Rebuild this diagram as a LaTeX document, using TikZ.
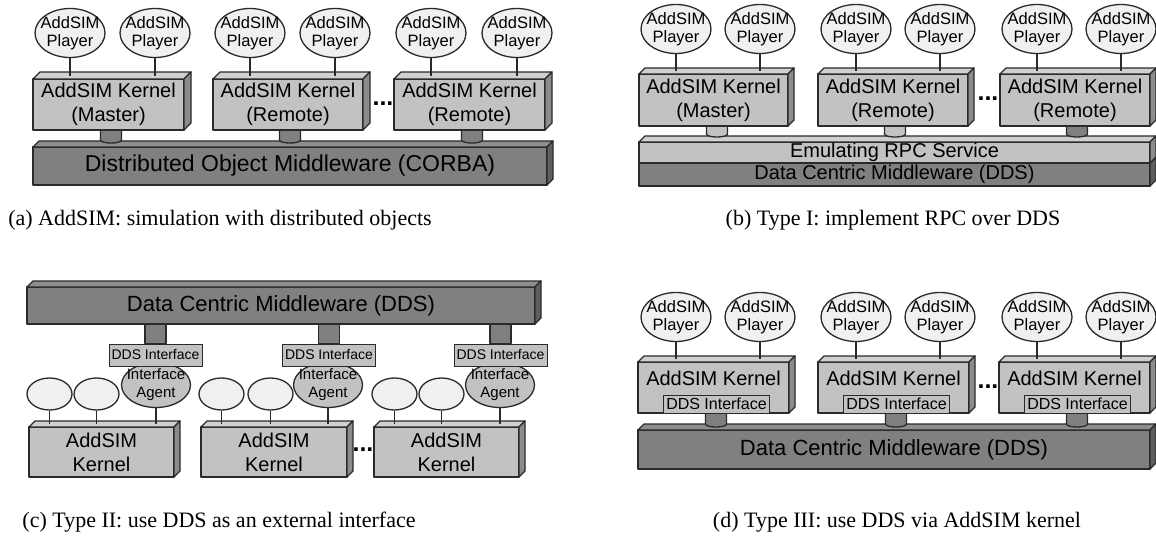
\documentclass[tikz,border=0pt]{standalone}
\usepackage{fontspec}
\setmainfont{Liberation Serif}
\setsansfont{Liberation Sans}
\usetikzlibrary{shapes.geometric}

\definecolor{ink}{HTML}{2A2A2A}
\definecolor{playerfill}{HTML}{F0F0F0}
\definecolor{lightfront}{HTML}{C2C2C2}
\definecolor{lighttop}{HTML}{D0D0D0}
\definecolor{lightside}{HTML}{8C8C8C}
\definecolor{darkfront}{HTML}{808080}
\definecolor{darktop}{HTML}{8E8E8E}
\definecolor{darkside}{HTML}{5E5E5E}

\newcommand\pxfont[2]{\fontsize{#1}{#2}\selectfont}

% 3-D slab: name, left x, top y, width, height, depth, tone (light/dark), node options, text
\newcommand\drawslab[9]{%
  \node[outline, fill=#7front, outer sep=0pt, inner sep=0pt, align=center,
        minimum width=#4pt, minimum height=#5pt, anchor=north west, #8] (#1) at (#2,#3) {#9};
  \path[outline, fill=#7top] (#1.north west) -- ++(#6,-#6)
     -- ([shift={(#6,-#6)}]#1.north east) -- (#1.north east) -- cycle;
  \path[outline, fill=#7side] (#1.north east) -- ++(#6,-#6)
     -- ([shift={(#6,-#6)}]#1.south east) -- (#1.south east) -- cycle;
}

% plug with a rounded lower end: centre x, top y, bottom y, fill colour
\newcommand\drawstub[4]{%
  \path[outline, fill=#4] (#1-10.5,#2) -- (#1-10.5,#3-3)
     .. controls (#1-10.5,#3+1) and (#1+10.5,#3+1) .. (#1+10.5,#3-3) -- (#1+10.5,#2);
}

\tikzset{
  outline/.style={draw=ink, line width=1.3pt, line join=round},
  player/.style={outline, ellipse, fill=playerfill, minimum width=70pt, minimum height=49pt,
                 inner sep=-10pt, align=center, font=\sffamily\pxfont{16.5}{18}},
  blank/.style={outline, ellipse, fill=playerfill, minimum width=45pt, minimum height=32pt, inner sep=0pt},
  agent/.style={outline, ellipse, fill=lightfront, minimum width=69pt, minimum height=45pt,
                inner sep=-10pt, align=center, font=\sffamily\pxfont{15}{18}},
  kfont/.style={font=\sffamily\pxfont{20}{24}},
  busfont/.style={font=\sffamily\pxfont{22}{24}},
  ddsifC/.style={draw=ink, line width=0.9pt, fill=lightfront, minimum width=93pt, minimum height=22pt,
                 inner sep=0pt, font=\sffamily\pxfont{14}{16}},
  ddsifD/.style={draw=ink, line width=0.9pt, fill=lightfront, minimum width=106pt, minimum height=18pt,
                 inner sep=0pt, outer sep=0pt, font=\sffamily\pxfont{16}{18}},
  wire/.style={draw=ink, line width=1.2pt},
  stem/.style={outline, fill=darkfront},
  dots/.style={font=\sffamily\bfseries\pxfont{25}{25}, inner sep=0pt},
  caption/.style={font=\rmfamily\pxfont{22}{26}, inner sep=0pt},
}

\begin{document}
\begin{tikzpicture}[x=1pt, y=-1pt]
\useasboundingbox[fill=white] (0,0) rectangle (1156,548);

% ---------- (a) AddSIM over CORBA ----------
\drawslab{busA}{33}{147}{514}{38}{6}{dark}{font=\sffamily\pxfont{23}{26}}{Distributed Object Middleware (CORBA)}
\drawstub{111}{130}{143}{darkfront}
\drawstub{290}{130}{143}{darkfront}
\drawstub{472}{130}{143}{darkfront}
\drawslab{kA1}{33}{79}{151}{51}{7}{light}{kfont}{AddSIM Kernel\\(Master)}
\drawslab{kA2}{213}{79}{150}{51}{7}{light}{kfont}{AddSIM Kernel\\(Remote)}
\drawslab{kA3}{394}{79}{151}{51}{7}{light}{kfont}{AddSIM Kernel\\(Remote)}
\foreach \n/\x in {1/70, 2/155, 3/250, 4/335, 5/431, 6/517}
  \node[player] (pA\n) at (\x,33) {AddSIM\\Player};
\foreach \p/\k in {pA1/kA1, pA2/kA1, pA3/kA2, pA4/kA2, pA5/kA3, pA6/kA3}
  \draw[wire] (\p.south) -- ([yshift=3pt]\p.south |- \k.north);
\node[dots] (dA) at (383,104) {...};
\node[caption] (capA) at (220,220) {(a) AddSIM: simulation with distributed objects};

% ---------- (b) RPC emulated over DDS ----------
\drawslab{busB2}{639}{163}{511}{23}{6}{dark}{font=\sffamily\pxfont{20}{22}}{Data Centric Middleware (DDS)}
\drawslab{busB1}{639}{142}{511}{21}{6}{light}{font=\sffamily\pxfont{20}{22}}{Emulating RPC Service}
\drawstub{717}{126}{137}{lightfront}
\drawstub{895}{126}{137}{lightfront}
\drawstub{1077}{126}{137}{darkfront}
\drawslab{kB1}{639}{74}{149}{52}{6}{light}{kfont}{AddSIM Kernel\\(Master)}
\drawslab{kB2}{818}{74}{150}{52}{6}{light}{kfont}{AddSIM Kernel\\(Remote)}
\drawslab{kB3}{1000}{74}{150}{52}{6}{light}{kfont}{AddSIM Kernel\\(Remote)}
\foreach \n/\x in {1/676, 2/760, 3/856, 4/940, 5/1037, 6/1121}
  \node[player] (pB\n) at (\x,29) {AddSIM\\Player};
\foreach \p/\k in {pB1/kB1, pB2/kB1, pB3/kB2, pB4/kB2, pB5/kB3, pB6/kB3}
  \draw[wire] (\p.south) -- ([yshift=3pt]\p.south |- \k.north);
\node[dots] (dB) at (988,99) {...};
\node[caption] (capB) at (893,220) {(b) Type I: implement RPC over DDS};

% ---------- (c) DDS as an external interface ----------
\drawslab{busC}{27}{287}{508}{37}{6}{dark}{busfont}{Data Centric Middleware (DDS)}
\foreach \n/\x in {1/156, 2/328, 3/500}
  \node[agent] (agC\n) at (\x,385) {Interface\\Agent};
\foreach \n/\x in {1/155.5, 2/329, 3/500.5}
  \node[ddsifC] (ifC\n) at (\x,355) {DDS Interface};
\foreach \n in {1,2,3}
  \draw[stem] ([xshift=-10.5pt]ifC\n.north |- busC.south) rectangle ([xshift=10.5pt]ifC\n.north);
\drawslab{kC1}{29}{427}{145}{50}{6}{light}{kfont}{AddSIM\\Kernel}
\drawslab{kC2}{201}{427}{146}{50}{6}{light}{kfont}{AddSIM\\Kernel}
\drawslab{kC3}{374}{427}{145}{50}{6}{light}{kfont}{AddSIM\\Kernel}
\foreach \n/\x in {1/49.5, 2/96.5, 3/221.5, 4/270.5, 5/394.5, 6/441.5}
  \node[blank] (eC\n) at (\x,394) {};
\foreach \p/\k in {eC1/kC1, eC2/kC1, agC1/kC1, eC3/kC2, eC4/kC2, agC2/kC2, eC5/kC3, eC6/kC3, agC3/kC3}
  \draw[wire] (\p.south) -- ([yshift=3pt]\p.south |- \k.north);
\node[dots] (dC) at (363,450) {...};
\node[caption] (capC) at (219,522) {(c) Type II: use DDS as an external interface};

% ---------- (d) DDS reached through the kernel ----------
\drawslab{busD}{638}{430}{512}{39}{6}{dark}{busfont}{Data Centric Middleware (DDS)}
\drawstub{716}{413}{427}{darkfront}
\drawstub{896}{413}{427}{darkfront}
\drawstub{1077}{413}{427}{darkfront}
\drawslab{kD1}{638}{362}{151}{51}{6}{light}{kfont, text height=14pt, text depth=19pt}{AddSIM Kernel}
\drawslab{kD2}{818}{362}{151}{51}{6}{light}{kfont, text height=14pt, text depth=19pt}{AddSIM Kernel}
\drawslab{kD3}{999}{362}{151}{51}{6}{light}{kfont, text height=14pt, text depth=19pt}{AddSIM Kernel}
\foreach \n in {1,2,3}
  \node[ddsifD, anchor=south] (ifD\n) at ([xshift=3pt]kD\n.south) {DDS Interface};
\foreach \n/\x in {1/676, 2/760, 3/856, 4/940, 5/1037, 6/1121}
  \node[player] (pD\n) at (\x,317) {AddSIM\\Player};
\foreach \p/\k in {pD1/kD1, pD2/kD1, pD3/kD2, pD4/kD2, pD5/kD3, pD6/kD3}
  \draw[wire] (\p.south) -- ([yshift=3pt]\p.south |- \k.north);
\node[dots] (dD) at (988,387) {...};
\node[caption] (capD) at (897,522) {(d) Type III: use DDS via AddSIM kernel};
\end{tikzpicture}
\end{document}
